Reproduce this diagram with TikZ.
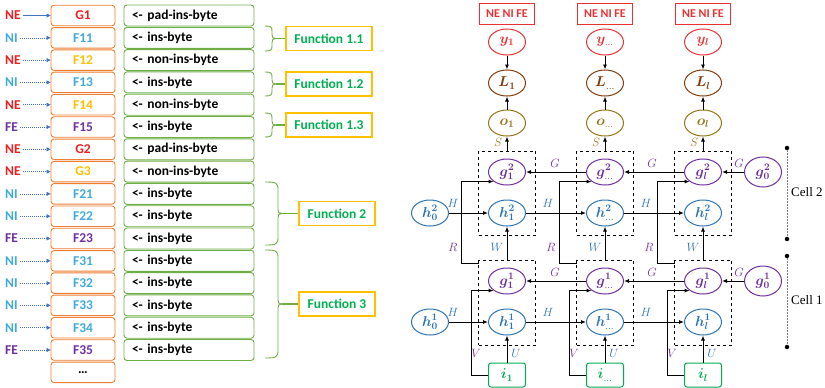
\documentclass[tikz,border=0pt]{standalone}
\usepackage{fontspec}
\setmainfont{Carlito}
\newfontfamily\cellfont{Liberation Serif}
\usepackage{bm}
\usetikzlibrary{shapes.geometric,arrows.meta}
\definecolor{cRed}{RGB}{240,30,30}
\definecolor{cBlue}{RGB}{65,170,220}
\definecolor{cYel}{RGB}{255,192,0}
\definecolor{cPur}{RGB}{112,48,160}
\definecolor{cOra}{RGB}{237,125,49}
\definecolor{cGrn}{RGB}{112,173,71}
\definecolor{cFun}{RGB}{0,176,80}
\definecolor{cArr}{RGB}{68,114,196}
\definecolor{hBlue}{RGB}{46,117,182}
\definecolor{cBrown}{RGB}{132,60,12}
\definecolor{cOlive}{RGB}{150,115,20}
\definecolor{eRed}{RGB}{235,50,50}
\definecolor{iGrn}{RGB}{0,176,80}
\begin{document}
\begin{tikzpicture}[x=1pt,y=-1pt,
  orabox/.style={draw=cOra, line width=0.9pt, rounded corners=3pt, minimum width=64pt, minimum height=20.5pt, inner sep=0pt, font=\bfseries\fontsize{13.5}{14}\selectfont},
  grnbox/.style={draw=cGrn, line width=0.9pt, rounded corners=3pt, minimum height=21pt, text width=114pt, inner xsep=8pt, inner ysep=0pt, align=left, font=\bfseries\fontsize{13.5}{14}\selectfont},
  lbl/.style={anchor=west, inner sep=0pt, font=\bfseries\fontsize{13.5}{14}\selectfont},
  inarrA/.style={draw=cArr, line width=0.7pt, -{Triangle[length=4pt,width=4pt]}},
  inarrB/.style={draw=cArr, line width=0.6pt, dash pattern=on 1pt off 1pt, -{Triangle[length=4pt,width=4pt]}},
  funbox/.style={draw=cYel, line width=1.2pt, minimum height=24pt, text=cFun, font=\bfseries\fontsize{13.5}{14}\selectfont, inner sep=0pt},
  brcline/.style={draw=cGrn, line width=0.9pt},
  ell/.style={ellipse, draw, line width=1pt, minimum width=37pt, minimum height=26pt, inner sep=0pt, fill=white, font=\fontsize{14}{14}\selectfont},
  arr/.style={-{Latex[length=5pt,width=4pt]}, line width=0.9pt, black},
  dbox/.style={draw, dashed, line width=0.9pt, minimum width=57pt, inner sep=0pt},
  mlab/.style={inner sep=0pt, font=\fontsize{13}{13}\selectfont},
  outbox/.style={draw=eRed, line width=1pt, minimum width=55pt, minimum height=21pt, inner sep=0pt, text=eRed, font=\bfseries\fontsize{12}{12}\selectfont},
  ibox/.style={draw=iGrn, line width=1pt, rounded corners=2.5pt, minimum width=37pt, minimum height=24pt, inner sep=0pt, text=iGrn, fill=white, font=\fontsize{14}{14}\selectfont},
  dot/.style={circle, fill=black, minimum size=4.5pt, inner sep=0pt},
  cellline/.style={draw=gray, line width=0.6pt, dash pattern=on 2pt off 1pt}
]
\useasboundingbox (0,0) rectangle (825,388);

% ---------- left list ----------
\foreach \k/\lab/\lc/\nm/\nc/\txt/\st in {
  0/NE/cRed/G1/cRed/pad-ins-byte/inarrA,
  1/NI/cBlue/F11/cBlue/ins-byte/inarrB,
  2/NE/cRed/F12/cYel/non-ins-byte/inarrB,
  3/NI/cBlue/F13/cBlue/ins-byte/inarrB,
  4/NE/cRed/F14/cYel/non-ins-byte/inarrB,
  5/FE/cPur/F15/cPur/ins-byte/inarrB,
  6/NE/cRed/G2/cRed/pad-ins-byte/inarrB,
  7/NE/cRed/G3/cYel/non-ins-byte/inarrB,
  8/NI/cBlue/F21/cBlue/ins-byte/inarrB,
  9/NI/cBlue/F22/cBlue/ins-byte/inarrB,
  10/FE/cPur/F23/cPur/ins-byte/inarrB,
  11/NI/cBlue/F31/cBlue/ins-byte/inarrB,
  12/NI/cBlue/F32/cBlue/ins-byte/inarrB,
  13/NI/cBlue/F33/cBlue/ins-byte/inarrB,
  14/NI/cBlue/F34/cBlue/ins-byte/inarrB,
  15/FE/cPur/F35/cPur/ins-byte/inarrB}{
  \pgfmathsetmacro{\yy}{15.5+22.3*\k}
  \node[orabox, text=\nc] (o\k) at (83,\yy) {\nm};
  \node[grnbox] (t\k) at (189,\yy) {<- \txt};
  \node[lbl, text=\lc] (l\k) at (5,\yy) {\lab};
  \draw[\st] (l\k.east) ++(2,0) coordinate (s\k) (s\k) -- (o\k.west);
}
\node[orabox] (o16) at (83,372.3) {\ldots};

% ---------- braces ----------
\foreach \t/\b/\xv/\r/\n in {26/51/272/5/1, 72/96/272/5/2, 113/137/272/5/3, 182/245/278/8/4, 250/358/278/8/5}{
  \pgfmathsetmacro{\m}{(\t+\b)/2}
  \draw[brcline] (265,\t) .. controls (\xv-1,\t) and (\xv,\t+1) .. (\xv,\t+\r)
     -- (\xv,\m-4) .. controls (\xv,\m-1) and (\xv+1,\m) .. (\xv+4,\m) coordinate (b\n)
     .. controls (\xv+1,\m) and (\xv,\m+1) .. (\xv,\m+4)
     -- (\xv,\b-\r) .. controls (\xv,\b-1) and (\xv-1,\b) .. (265,\b);
}
\node[funbox, minimum width=86pt] (fn1) at (329,38.5) {Function 1.1};
\node[funbox, minimum width=86pt] (fn2) at (329,84) {Function 1.2};
\node[funbox, minimum width=86pt] (fn3) at (329,125) {Function 1.3};
\node[funbox, minimum width=76pt] (fn4) at (337,213.5) {Function 2};
\node[funbox, minimum width=76pt] (fn5) at (337,304) {Function 3};
\foreach \n in {1,...,5}{
  \draw[cGrn, line width=1.1pt] (b\n) -- (fn\n.west);
}

% ---------- right network ----------
\node[ell, draw=hBlue, text=hBlue] (h02) at (430,213) {$\bm{h}^{\bm{2}}_{\bm{0}}$};
\node[ell, draw=hBlue, text=hBlue] (h01) at (430,322) {$\bm{h}^{\bm{1}}_{\bm{0}}$};
\node[ell, draw=cPur, text=cPur, minimum height=30pt] (g02) at (763,172) {$\bm{g}^{\bm{2}}_{\bm{0}}$};
\node[ell, draw=cPur, text=cPur, minimum height=30pt] (g01) at (763,281) {$\bm{g}^{\bm{1}}_{\bm{0}}$};

\foreach \i/\cx/\s in {1/507/\bm{1}, 2/605/\ldots, 3/703/\bm{l}}{
  \node[dbox, minimum height=84pt] (bxb\i) at (\cx,193) {};
  \node[dbox, minimum height=85pt] (bxa\i) at (\cx,302.5) {};
  \node[outbox] (ne\i) at (\cx,13.5) {NE NI FE};
  \node[ell, draw=eRed, text=eRed] (y\i) at (\cx,42) {$\bm{y}_{\s}$};
  \node[ell, draw=cBrown, text=cBrown] (L\i) at (\cx,83) {$\bm{L}_{\s}$};
  \node[ell, draw=cOlive, text=cOlive] (op\i) at (\cx,123) {$\bm{o}_{\s}$};
  \node[ell, draw=cPur, text=cPur] (gb\i) at (\cx,172) {$\bm{g}^{\bm{2}}_{\s}$};
  \node[ell, draw=hBlue, text=hBlue] (hb\i) at (\cx,213) {$\bm{h}^{\bm{2}}_{\s}$};
  \node[ell, draw=cPur, text=cPur] (ga\i) at (\cx,281) {$\bm{g}^{\bm{1}}_{\s}$};
  \node[ell, draw=hBlue, text=hBlue] (ha\i) at (\cx,322) {$\bm{h}^{\bm{1}}_{\s}$};
  \node[ibox] (i\i) at (\cx,375) {$\bm{i}_{\s}$};
  \draw[arr] (y\i) -- (L\i);
  \draw[arr] (op\i) -- (L\i);
  \draw[arr] (bxb\i.north) -- (op\i);
  \draw[arr] (bxa\i.north) -- (hb\i);
  \draw[arr] (i\i) -- (ha\i);
  \draw[arr] (bxa\i.north west) -- ++(0,4) -- ++(-17,0) |- (gb\i.south west);
  \draw[arr] (i\i.west) -- ++(-17,0) |- (ga\i.south west);
  \node[mlab, text=cOlive] at (\cx-9,142) {$S$};
  \node[mlab, text=hBlue] at (\cx-10,247) {$W$};
  \node[mlab, text=hBlue] at (\cx+9,353) {$U$};
  \node[mlab, text=cPur] at (\cx-54,247) {$R$};
  \node[mlab, text=cPur] at (\cx-31,353) {$V$};
}
% horizontal connections
\draw[arr] (h02) -- (hb1);
\draw[arr] (hb1) -- (hb2);
\draw[arr] (hb2) -- (hb3);
\draw[arr] (h01) -- (ha1);
\draw[arr] (ha1) -- (ha2);
\draw[arr] (ha2) -- (ha3);
\draw[arr] (gb2) -- (gb1);
\draw[arr] (gb3) -- (gb2);
\draw[arr] (g02) -- (gb3);
\draw[arr] (ga2) -- (ga1);
\draw[arr] (ga3) -- (ga2);
\draw[arr] (g01) -- (ga3);
% H and G labels
\foreach \x in {453,548,646}{
  \node[mlab, text=hBlue] at (\x,203) {$H$};
  \node[mlab, text=hBlue] at (\x,312) {$H$};
}
\foreach \x in {555,652,739}{
  \node[mlab, text=cPur] at (\x,163) {$G$};
  \node[mlab, text=cPur] at (\x,272) {$G$};
}
% cell markers
\node[dot] (c2t) at (787,148) {};
\node[dot] (c2b) at (787,239) {};
\node[dot] (c1t) at (787,256) {};
\node[dot] (c1b) at (787,347) {};
\draw[cellline] (c2t) -- (c2b);
\draw[cellline] (c1t) -- (c1b);
\node[anchor=west, inner sep=0pt, font=\cellfont\fontsize{13}{13}\selectfont] (cl2) at (791,192) {Cell 2};
\node[anchor=west, inner sep=0pt, font=\cellfont\fontsize{13}{13}\selectfont] (cl1) at (791,300) {Cell 1};
\end{tikzpicture}
\end{document}
